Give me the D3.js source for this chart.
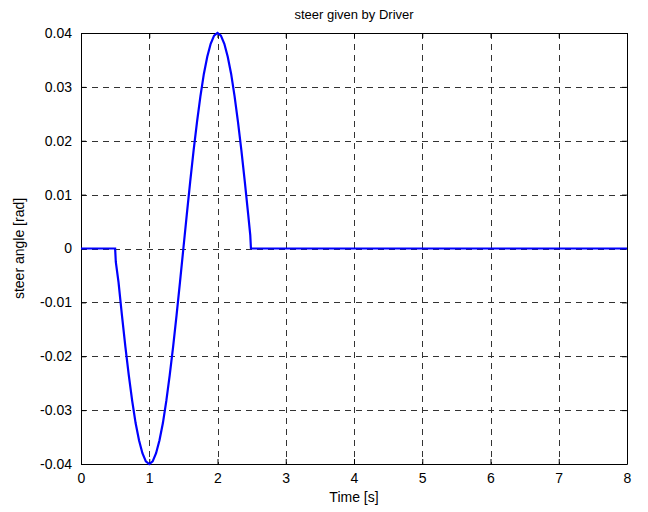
<!DOCTYPE html>
<html>
<head>
	<script src="https://d3js.org/d3.v7.min.js"></script>
	<style>
		body { margin: 0; background: #fff; }
		text { font-family: "Liberation Sans", Arial, sans-serif; fill: #000; }
	</style>
</head>
<body>
	<div class="chart"></div>
	<script>
		// steer input (time in s, angle in rad)
		var times = [0, 0.50, 0.51, 0.55, 0.60, 0.65, 0.70, 0.75, 0.80, 0.85, 0.90, 0.95,
			1.00, 1.05, 1.10, 1.15, 1.20, 1.25, 1.30, 1.35, 1.40, 1.45, 1.50, 1.55, 1.60, 1.65,
			1.70, 1.75, 1.80, 1.85, 1.90, 1.95, 2.00, 2.05, 2.10, 2.15, 2.20, 2.25, 2.30, 2.35,
			2.40, 2.45, 2.48, 2.49, 8];
		var steer = [0, 0, -0.0025, -0.0063, -0.0124, -0.0182, -0.0235, -0.0283, -0.0324, -0.0356, -0.0380, -0.0395,
			-0.0400, -0.0395, -0.0380, -0.0356, -0.0324, -0.0283, -0.0235, -0.0182, -0.0124, -0.0063, 0, 0.0063, 0.0124, 0.0182,
			0.0235, 0.0283, 0.0324, 0.0356, 0.0380, 0.0395, 0.0400, 0.0395, 0.0380, 0.0356, 0.0324, 0.0283, 0.0235, 0.0182,
			0.0124, 0.0063, 0.0025, 0, 0];
		var xTicks = [0, 1, 2, 3, 4, 5, 6, 7, 8];
		var yTicks = [-0.04, -0.03, -0.02, -0.01, 0, 0.01, 0.02, 0.03, 0.04];
		var yTickLabels = ["-0.04", "-0.03", "-0.02", "-0.01", "0", "0.01", "0.02", "0.03", "0.04"];

		var w = 648, h = 512;
		var mLeft = 81, mRight = 627, mTop = 33, mBottom = 464;

		var svg = d3.select(".chart")
			.append("svg")
			.attr("width", w)
			.attr("height", h);

		var x = d3.scaleLinear().domain([0, 8]).range([mLeft, mRight]);
		var y = d3.scaleLinear().domain([-0.04, 0.04]).range([mBottom, mTop]);

		// grid
		var grid = svg.append("g").attr("class", "grid");
		grid.selectAll(".gx")
			.data(xTicks.slice(1, -1))
			.enter()
			.append("line")
			.attr("x1", function(d) { return Math.round(x(d)) + 0.5; })
			.attr("x2", function(d) { return Math.round(x(d)) + 0.5; })
			.attr("y1", mTop)
			.attr("y2", mBottom)
			.attr("stroke", "#333")
			.attr("stroke-dasharray", "6,5");
		grid.selectAll(".gy")
			.data(yTicks.slice(1, -1))
			.enter()
			.append("line")
			.attr("y1", function(d) { return Math.round(y(d)) + 0.5; })
			.attr("y2", function(d) { return Math.round(y(d)) + 0.5; })
			.attr("x1", mLeft)
			.attr("x2", mRight)
			.attr("stroke", "#333")
			.attr("stroke-dasharray", "6,5");

		// axes with inward ticks, box on all sides
		var fmt = function(d) { return yTickLabels[yTicks.indexOf(d)]; };
		svg.append("g")
			.attr("transform", "translate(0," + mBottom + ")")
			.call(d3.axisBottom(x).tickValues(xTicks).tickSizeInner(-5).tickSizeOuter(0).tickPadding(9));
		svg.append("g")
			.attr("transform", "translate(0," + mTop + ")")
			.call(d3.axisTop(x).tickValues(xTicks).tickSizeInner(-5).tickSizeOuter(0).tickFormat(""));
		svg.append("g")
			.attr("transform", "translate(" + mLeft + ",0)")
			.call(d3.axisLeft(y).tickValues(yTicks).tickSizeInner(-5).tickSizeOuter(0).tickPadding(9).tickFormat(fmt));
		svg.append("g")
			.attr("transform", "translate(" + mRight + ",0)")
			.call(d3.axisRight(y).tickValues(yTicks).tickSizeInner(-5).tickSizeOuter(0).tickFormat(""));
		svg.selectAll(".domain").attr("stroke", "#000");
		svg.selectAll(".tick line").attr("stroke", "#000");
		svg.selectAll(".tick text")
			.style("font-size", "14px")
			.style("font-family", "'Liberation Sans', Arial, sans-serif");

		// data line
		var line = d3.line()
			.x(function(d, i) { return x(times[i]); })
			.y(function(d) { return y(d); });
		svg.append("path")
			.datum(steer)
			.attr("d", line)
			.attr("fill", "none")
			.attr("stroke", "#0000ff")
			.attr("stroke-width", 2.2);

		// labels
		svg.append("text")
			.attr("x", (mLeft + mRight) / 2)
			.attr("y", 19)
			.attr("text-anchor", "middle")
			.style("font-size", "13px")
			.text("steer given by Driver");
		svg.append("text")
			.attr("x", (mLeft + mRight) / 2)
			.attr("y", 502)
			.attr("text-anchor", "middle")
			.style("font-size", "14px")
			.text("Time [s]");
		svg.append("text")
			.attr("transform", "translate(24," + ((mTop + mBottom) / 2) + ") rotate(-90)")
			.attr("text-anchor", "middle")
			.style("font-size", "14px")
			.text("steer angle [rad]");
	</script>
</body>
</html>
